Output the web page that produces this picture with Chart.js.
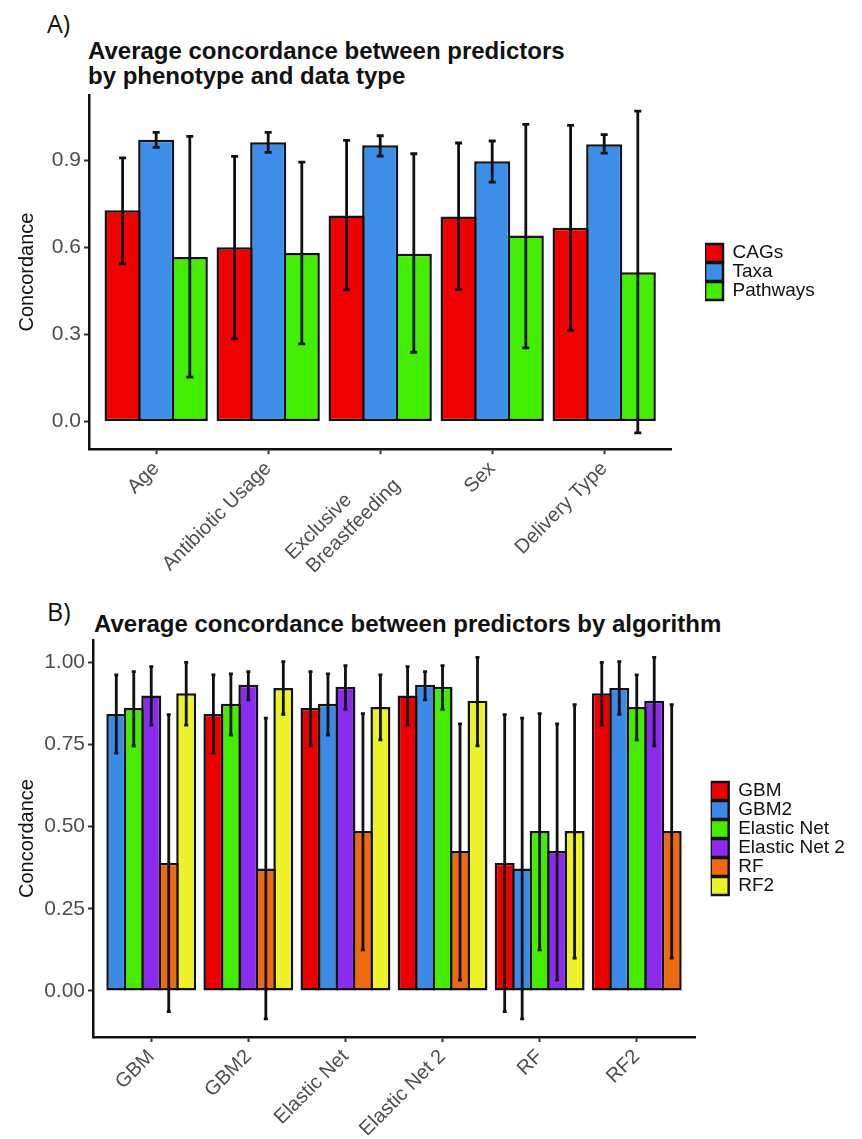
<!DOCTYPE html>
<html>
<head>
<meta charset="utf-8">
<title>Average concordance between predictors</title>
<script src="https://cdn.jsdelivr.net/npm/chart.js@4.4.1/dist/chart.umd.min.js"></script>
<style>
  body { margin: 0; background: #fff; }
  #page { position: relative; width: 862px; height: 1139px; overflow: hidden; }
  canvas { position: absolute; left: 0; }
  .tag { position: absolute; font-family: "Open Sans", sans-serif; font-size: 25px; line-height: 25px; color: #111; }
  .title { position: absolute; font-family: "Liberation Sans", Arial, sans-serif; font-weight: bold; font-size: 24px; line-height: 25px; color: #111; white-space: nowrap; }
</style>
</head>
<body>
<div id="page">
  <div class="tag" style="left:47px; top:11px">A)</div>
  <div class="title" style="left:88px; top:38px">Average concordance between predictors<br>by phenotype and data type</div>
  <canvas id="chartA" width="862" height="580" style="top:0"></canvas>
  <div class="tag" style="left:47px; top:599px">B)</div>
  <div class="title" style="left:94px; top:611px">Average concordance between predictors by algorithm</div>
  <canvas id="chartB" width="862" height="559" style="top:580px"></canvas>
</div>
<script>
// Panel A: phenotype x data type
const phenotypes = ['Age', 'Antibiotic Usage', ['Exclusive        ', 'Breastfeeding'], 'Sex', 'Delivery Type'];
const dataTypes = ['CAGs', 'Taxa', 'Pathways'];
const colorsA = ['#f00000', '#3d8ee8', '#43ee00'];

const cagsMean = [0.728, 0.601, 0.710, 0.707, 0.668];
const cagsLow  = [0.544, 0.285, 0.454, 0.455, 0.314];
const cagsHigh = [0.909, 0.914, 0.969, 0.960, 1.021];
const taxaMean = [0.971, 0.963, 0.952, 0.897, 0.956];
const taxaLow  = [0.945, 0.928, 0.915, 0.825, 0.925];
const taxaHigh = [0.997, 0.997, 0.985, 0.967, 0.989];
const pathMean = [0.567, 0.581, 0.578, 0.641, 0.515];
const pathLow  = [0.153, 0.268, 0.239, 0.254, -0.039];
const pathHigh = [0.983, 0.894, 0.923, 1.024, 1.070];

// Panel B: algorithm x algorithm (no bar against itself)
const algorithms = ['GBM', 'GBM2', 'Elastic Net', 'Elastic Net 2', 'RF', 'RF2'];
const colorsB = ['#ea0000', '#3b8be6', '#46ec00', '#8a2bee', '#ee6a10', '#eef22a'];

const gbmMean  = [null, 0.843, 0.861, 0.899, 0.390, 0.906];
const gbmLow   = [null, 0.724, 0.746, 0.809, -0.063, 0.809];
const gbmHigh  = [null, 0.962, 0.972, 0.987, 0.841, 1.000];
const gbm2Mean = [0.843, null, 0.874, 0.932, 0.373, 0.922];
const gbm2Low  = [0.724, null, 0.779, 0.886, -0.085, 0.842];
const gbm2High = [0.962, null, 0.965, 0.972, 0.830, 1.002];
const enMean   = [0.861, 0.874, null, 0.926, 0.487, 0.864];
const enLow    = [0.746, 0.779, null, 0.857, 0.125, 0.764];
const enHigh   = [0.972, 0.965, null, 0.990, 0.844, 0.962];
const en2Mean  = [0.899, 0.932, 0.926, null, 0.426, 0.883];
const en2Low   = [0.809, 0.886, 0.857, null, 0.033, 0.746];
const en2High  = [0.987, 0.972, 0.990, null, 0.813, 1.015];
const rfMean   = [0.390, 0.373, 0.487, 0.426, null, 0.487];
const rfLow    = [-0.063, -0.085, 0.125, 0.033, null, 0.100];
const rfHigh   = [0.841, 0.830, 0.844, 0.813, null, 0.871];
const rf2Mean  = [0.906, 0.922, 0.864, 0.883, 0.487, null];
const rf2Low   = [0.809, 0.842, 0.764, 0.746, 0.100, null];
const rf2High  = [1.000, 1.002, 0.962, 1.015, 0.871, null];

Chart.defaults.font.family = '"Liberation Sans", Arial, Helvetica, sans-serif';
Chart.defaults.color = '#4d4d4d';

// draw the error bars on top of the bars
const errorBars = {
  id: 'errorBars',
  afterDatasetsDraw(chart, args, opts) {
    const ctx = chart.ctx;
    const yScale = chart.scales.y;
    ctx.save();
    ctx.strokeStyle = '#111';
    ctx.lineWidth = opts.lineWidth;
    chart.data.datasets.forEach((ds, di) => {
      const meta = chart.getDatasetMeta(di);
      meta.data.forEach((bar, i) => {
        if (ds.errLow[i] == null) return;
        const top = yScale.getPixelForValue(ds.errHigh[i]);
        const bot = yScale.getPixelForValue(ds.errLow[i]);
        ctx.beginPath();
        ctx.moveTo(bar.x, top);
        ctx.lineTo(bar.x, bot);
        ctx.moveTo(bar.x - opts.cap, top);
        ctx.lineTo(bar.x + opts.cap, top);
        ctx.moveTo(bar.x - opts.cap, bot);
        ctx.lineTo(bar.x + opts.cap, bot);
        ctx.stroke();
      });
    });
    ctx.restore();
  }
};

// keep the legend box a fixed width so the plot area ends where it should
const legendWidth = {
  id: 'legendWidth',
  beforeLayout(chart, args, opts) {
    const lg = chart.legend;
    if (lg && !lg._fixedFit) {
      const fit = lg.fit;
      lg.fit = function () { fit.call(this); this.width = opts.width; };
      lg._fixedFit = true;
    }
  }
};

function barSet(label, color, means, low, high) {
  return {
    label: label,
    backgroundColor: color,
    borderColor: '#111',
    borderWidth: 2.5,
    borderSkipped: false,
    data: means.map((v, i) => ({ x: i + 1, y: v })),
    errLow: low,
    errHigh: high
  };
}

function xAxis(names, height) {
  return {
    type: 'linear',
    min: 0.4,
    max: names.length + 0.6,
    offset: false,
    afterFit: (s) => { s.height = height; },
    grid: { display: true, offset: false, drawOnChartArea: false, drawTicks: true, tickLength: 5, tickWidth: 2, tickColor: '#333' },
    border: { display: true, color: '#111', width: 2.5 },
    ticks: {
      stepSize: 1, includeBounds: false, autoSkip: false,
      minRotation: 45, maxRotation: 45, padding: 3,
      color: '#4d4d4d', font: { size: 20 },
      callback: (v) => Number.isInteger(v) ? names[v - 1] : ''
    }
  };
}

function yAxis(min, max, step, digits, width) {
  return {
    type: 'linear',
    min: min,
    max: max,
    afterFit: (s) => { s.width = width; },
    grid: { display: true, drawOnChartArea: false, drawTicks: true, tickLength: 5, tickWidth: 2, tickColor: '#333' },
    border: { display: true, color: '#111', width: 2.5 },
    ticks: { stepSize: step, includeBounds: false, padding: 3, color: '#4d4d4d', font: { size: 21 }, callback: (v) => v.toFixed(digits) },
    title: { display: true, text: 'Concordance', color: '#111', font: { size: 20 }, padding: { top: 15, bottom: 0 } }
  };
}

function padAxis(width) {
  return {
    type: 'linear', position: 'right', min: 0, max: 1,
    afterFit: (s) => { s.width = width; },
    grid: { display: false }, border: { display: false }, ticks: { display: false }
  };
}

function legendOpts() {
  return {
    position: 'right',
    align: 'center',
    fullSize: false,
    labels: { boxWidth: 18, boxHeight: 18, padding: 0, color: '#111', font: { size: 19 } }
  };
}

new Chart(document.getElementById('chartA'), {
  type: 'bar',
  data: {
    datasets: [
      barSet(dataTypes[0], colorsA[0], cagsMean, cagsLow, cagsHigh),
      barSet(dataTypes[1], colorsA[1], taxaMean, taxaLow, taxaHigh),
      barSet(dataTypes[2], colorsA[2], pathMean, pathLow, pathHigh)
    ]
  },
  options: {
    responsive: false,
    animation: false,
    layout: { padding: { top: 95, left: 0, right: 0, bottom: 0 } },
    datasets: { bar: { categoryPercentage: 0.9, barPercentage: 1.074, skipNull: true } },
    plugins: {
      legend: legendOpts(),
      title: { display: false },
      tooltip: { enabled: false },
      errorBars: { cap: 3.5, lineWidth: 2.8 },
      legendWidth: { width: 157 }
    },
    scales: {
      x: xAxis(phenotypes, 131),
      y: yAxis(-0.0945, 1.1255, 0.3, 1, 89),
      yPad: padAxis(33.6)
    }
  },
  plugins: [errorBars, legendWidth]
});

new Chart(document.getElementById('chartB'), {
  type: 'bar',
  data: {
    datasets: [
      barSet(algorithms[0], colorsB[0], gbmMean, gbmLow, gbmHigh),
      barSet(algorithms[1], colorsB[1], gbm2Mean, gbm2Low, gbm2High),
      barSet(algorithms[2], colorsB[2], enMean, enLow, enHigh),
      barSet(algorithms[3], colorsB[3], en2Mean, en2Low, en2High),
      barSet(algorithms[4], colorsB[4], rfMean, rfLow, rfHigh),
      barSet(algorithms[5], colorsB[5], rf2Mean, rf2Low, rf2High)
    ]
  },
  options: {
    responsive: false,
    animation: false,
    layout: { padding: { top: 60, left: 0, right: 0, bottom: 0 } },
    datasets: { bar: { categoryPercentage: 0.9, barPercentage: 1.143, skipNull: true } },
    plugins: {
      legend: legendOpts(),
      title: { display: false },
      tooltip: { enabled: false },
      errorBars: { cap: 2, lineWidth: 2.8 },
      legendWidth: { width: 151.3 }
    },
    scales: {
      x: xAxis(algorithms, 102),
      y: yAxis(-0.14, 1.068, 0.25, 2, 93),
      yPad: padAxis(15.7)
    }
  },
  plugins: [errorBars, legendWidth]
});
</script>
</body>
</html>
